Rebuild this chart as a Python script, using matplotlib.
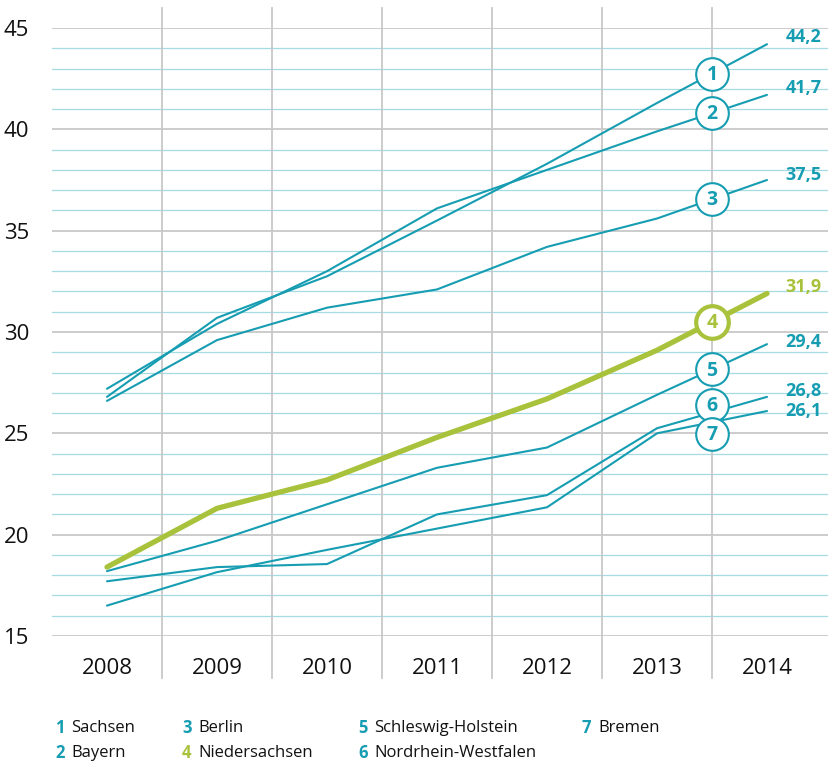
import numpy as np
import matplotlib
matplotlib.use("Agg")
import matplotlib.pyplot as plt

plt.rcParams['font.family'] = ['Open Sans', 'DejaVu Sans']

# data
years = ['2008', '2009', '2010', '2011', '2012', '2013', '2014']
states = ['Sachsen', 'Bayern', 'Berlin', 'Niedersachsen',
          'Schleswig-Holstein', 'Nordrhein-Westfalen', 'Bremen']
sachsen = [26.8, 30.7, 32.75, 35.5, 38.3, 41.3, 44.2]
bayern = [27.2, 30.4, 33.0, 36.1, 38.0, 39.9, 41.7]
berlin = [26.6, 29.6, 31.2, 32.1, 34.2, 35.6, 37.5]
niedersachsen = [18.4, 21.3, 22.7, 24.8, 26.7, 29.1, 31.9]
schleswig = [18.2, 19.7, 21.5, 23.3, 24.3, 26.9, 29.4]
nrw = [17.7, 18.4, 18.55, 21.0, 21.95, 25.25, 26.8]
bremen = [16.5, 18.15, 19.25, 20.3, 21.35, 25.0, 26.1]
end_labels = ['44,2', '41,7', '37,5', '31,9', '29,4', '26,8', '26,1']
series = [sachsen, bayern, berlin, niedersachsen, schleswig, nrw, bremen]

# styling
TEAL = '#169db2'
GREEN = '#a9c23c'
GRID_MAJOR = '#c8c8c8'
GRID_MINOR = '#a6dbe4'
colors = [TEAL, TEAL, TEAL, GREEN, TEAL, TEAL, TEAL]
widths = [1.5, 1.5, 1.5, 3.8, 1.5, 1.5, 1.5]
label_dy = [0.38, 0.32, 0.25, 0.32, 0.1, 0.3, 0.0]
circle_dy = [0, 0, 0, 0, 0, 0.35, -0.6]

W, H = 829, 766
fig = plt.figure(figsize=(W / 100, H / 100), dpi=100)
ax = fig.add_axes([52 / W, (H - 636) / H, (W - 52) / W, 608 / H])
ax.set_xlim(-0.5, -0.5 + 777 / 110)
ax.set_ylim(15, 45)
for s in ax.spines.values():
    s.set_visible(False)

# horizontal grid: grey every 5, light blue every 1
for v in range(15, 46):
    if v % 5 == 0:
        ax.axhline(v, color=GRID_MAJOR, lw=1.3, zorder=1)
    else:
        ax.axhline(v, color=GRID_MINOR, lw=0.9, zorder=0.9)
# vertical separators between years
for k in range(len(years) - 1):
    ax.axvline(k + 0.5, ymin=-0.069, ymax=1.033, color=GRID_MAJOR,
               lw=1.3, zorder=1.1, clip_on=False)

x = np.arange(len(years))
for i, vals in enumerate(series):
    ax.plot(x, vals, color=colors[i], lw=widths[i], zorder=3 if i != 3 else 4,
            solid_capstyle='round', solid_joinstyle='round')
    ax.text(x[-1] + 0.17, vals[-1] + label_dy[i], end_labels[i],
            color=colors[i], fontsize=13, fontweight='bold',
            ha='left', va='center', zorder=5)
    # numbered circle between 2013 and 2014
    cy = (vals[-2] + vals[-1]) / 2 + circle_dy[i]
    ax.plot([5.5], [cy], marker='o', ms=23.5, mfc='white', mec=colors[i],
            mew=1.5 if i != 3 else 3.0, zorder=6)
    ax.text(5.5, cy - 0.05, str(i + 1), color=colors[i], fontsize=14,
            fontweight='bold', ha='center', va='center', zorder=7)

ax.set_xticks(x)
ax.set_xticklabels(years)
ax.set_yticks(np.arange(15, 46, 5))
ax.tick_params(length=0, labelsize=16, colors='#111111')
ax.tick_params(axis='y', pad=16.5)
ax.tick_params(axis='x', pad=16)

# legend below the chart
legend_pos = [(55, 728), (55, 753), (182, 728), (182, 753),
              (358, 728), (358, 753), (582, 728)]
for i, name in enumerate(states):
    px, py = legend_pos[i]
    fig.text(px / W, 1 - py / H, str(i + 1), color=colors[i], fontsize=12,
             fontweight='bold', ha='left', va='center')
    fig.text((px + 16) / W, 1 - py / H, name, color='#111111', fontsize=12,
             ha='left', va='center')

fig.savefig('out.png', dpi=100, facecolor='white')
